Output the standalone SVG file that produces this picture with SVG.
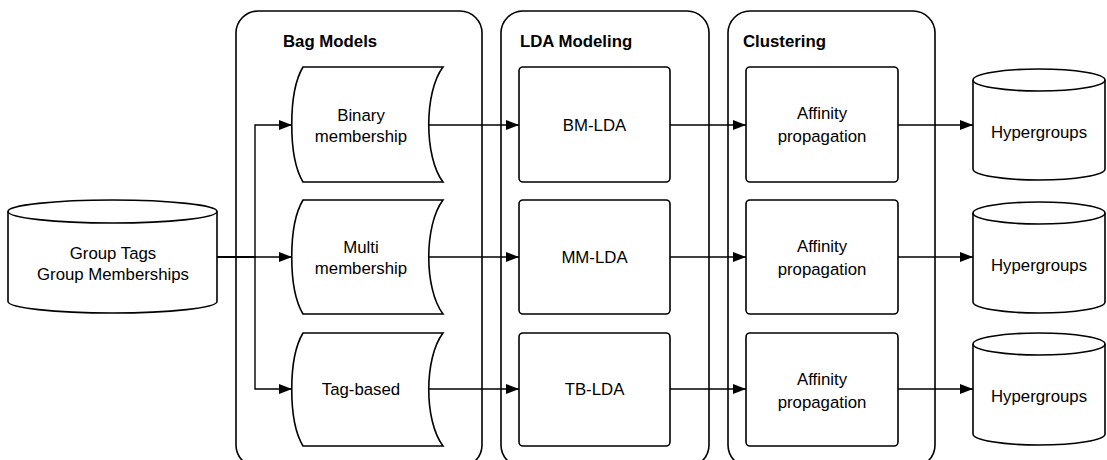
<svg xmlns="http://www.w3.org/2000/svg" width="1107" height="460" viewBox="0 0 1107 460">
<defs>
<style>
.c{fill:none;stroke:#000;stroke-width:1.6}
.s{fill:#fff;stroke:#000;stroke-width:1.6}
.t{font-family:"Liberation Sans",Arial,sans-serif;font-size:16.8px;fill:#000;text-anchor:middle}
.h{font-family:"Liberation Sans",Arial,sans-serif;font-size:16.8px;font-weight:bold;fill:#000}
.e{fill:none;stroke:#000;stroke-width:1.4;marker-end:url(#ah)}
</style>
<marker id="ah" markerUnits="userSpaceOnUse" markerWidth="14" markerHeight="11" refX="13" refY="5" orient="auto">
<path d="M0,0 L13,5 L0,10 Z" fill="#000"/>
</marker>
</defs>
<rect width="1107" height="460" fill="#fff"/>
<g id="bag-models">
<rect class="c" x="236" y="11" width="246" height="456" rx="22"/>
<text class="h" x="283" y="47">Bag Models</text>
</g>
<g id="lda-modeling">
<rect class="c" x="501" y="11" width="208" height="456" rx="22"/>
<text class="h" x="520" y="47">LDA Modeling</text>
</g>
<g id="clustering">
<rect class="c" x="728" y="11" width="207" height="456" rx="22"/>
<text class="h" x="743" y="47">Clustering</text>
</g>
<g id="connectors">
<path class="e" d="M217,257 H255 V125 H292"/>
<path class="e" d="M217,257 H292"/>
<path class="e" d="M217,257 H255 V389 H292"/>
<path class="e" d="M429,125 H519"/>
<path class="e" d="M429,257 H519"/>
<path class="e" d="M429,389 H519"/>
<path class="e" d="M670,125 H746"/>
<path class="e" d="M670,257 H746"/>
<path class="e" d="M670,389 H746"/>
<path class="e" d="M898,125 H973"/>
<path class="e" d="M898,257 H973"/>
<path class="e" d="M898,389 H973"/>
</g>
<g id="group-tags">
<path class="s" d="M8,211.5 A104.5,11.5 0 0 1 217,211.5 L217,301.5 A104.5,11.5 0 0 1 8,301.5 Z"/>
<path class="c" d="M8,211.5 A104.5,11.5 0 0 0 217,211.5"/>
<text class="t" x="113" y="259">Group Tags</text>
<text class="t" x="113" y="280">Group Memberships</text>
</g>
<g id="binary-membership">
<path class="s" d="M303,67 L443,67 C424,92 424,157 443,182 L303,182 C288,157 288,92 303,67 Z"/>
<text class="t" x="361" y="121">Binary</text>
<text class="t" x="361" y="142">membership</text>
</g>
<g id="multi-membership">
<path class="s" d="M303,200 L443,200 C424,225 424,289 443,314 L303,314 C288,289 288,225 303,200 Z"/>
<text class="t" x="361" y="253">Multi</text>
<text class="t" x="361" y="274">membership</text>
</g>
<g id="tag-based">
<path class="s" d="M303,333 L443,333 C424,358 424,421 443,446 L303,446 C288,421 288,358 303,333 Z"/>
<text class="t" x="361" y="395">Tag-based</text>
</g>
<g id="bm-lda">
<rect class="s" x="519" y="67" width="151" height="115" rx="4"/>
<text class="t" x="594.5" y="131">BM-LDA</text>
</g>
<g id="mm-lda">
<rect class="s" x="519" y="200" width="151" height="114" rx="4"/>
<text class="t" x="594.5" y="263">MM-LDA</text>
</g>
<g id="tb-lda">
<rect class="s" x="519" y="333" width="151" height="113" rx="4"/>
<text class="t" x="594.5" y="395">TB-LDA</text>
</g>
<g id="affinity-1">
<rect class="s" x="746" y="67" width="152" height="115" rx="4"/>
<text class="t" x="822" y="119">Affinity</text>
<text class="t" x="822" y="142">propagation</text>
</g>
<g id="affinity-2">
<rect class="s" x="746" y="200" width="152" height="114" rx="4"/>
<text class="t" x="822" y="252">Affinity</text>
<text class="t" x="822" y="275">propagation</text>
</g>
<g id="affinity-3">
<rect class="s" x="746" y="333" width="152" height="113" rx="4"/>
<text class="t" x="822" y="385">Affinity</text>
<text class="t" x="822" y="408">propagation</text>
</g>
<g id="hypergroups-1">
<path class="s" d="M973,80 A66,11 0 0 1 1105,80 L1105,169 A66,11 0 0 1 973,169 Z"/>
<path class="c" d="M973,80 A66,11 0 0 0 1105,80"/>
<text class="t" x="1039" y="138">Hypergroups</text>
</g>
<g id="hypergroups-2">
<path class="s" d="M973,213 A66,11 0 0 1 1105,213 L1105,302 A66,11 0 0 1 973,302 Z"/>
<path class="c" d="M973,213 A66,11 0 0 0 1105,213"/>
<text class="t" x="1039" y="271">Hypergroups</text>
</g>
<g id="hypergroups-3">
<path class="s" d="M973,344 A66,11 0 0 1 1105,344 L1105,434 A66,11 0 0 1 973,434 Z"/>
<path class="c" d="M973,344 A66,11 0 0 0 1105,344"/>
<text class="t" x="1039" y="402">Hypergroups</text>
</g>
</svg>
